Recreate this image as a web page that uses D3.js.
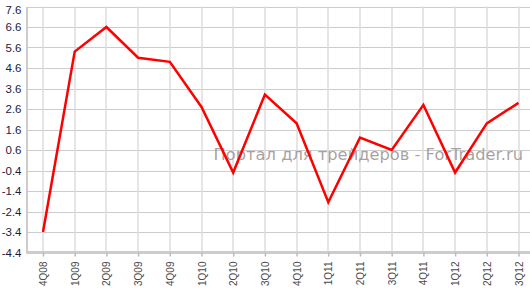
<!DOCTYPE html>
<html>
<head>
<meta charset="utf-8">
<script src="https://cdn.jsdelivr.net/npm/d3@7"></script>
<style>
  body { margin: 0; background: #fff; }
  svg { display: block; }
</style>
</head>
<body>
<svg id="chart" width="530" height="288"></svg>
<script>
var quarters = ["4Q08","1Q09","2Q09","3Q09","4Q09","1Q10","2Q10","3Q10","4Q10",
                "1Q11","2Q11","3Q11","4Q11","1Q12","2Q12","3Q12"];
var values = [-3.4, 5.4, 6.6, 5.1, 4.9, 2.7, -0.5, 3.3, 1.9,
              -1.95, 1.2, 0.6, 2.8, -0.5, 1.9, 2.9];
var yTicks = [7.6, 6.6, 5.6, 4.6, 3.6, 2.6, 1.6, 0.6, -0.4, -1.4, -2.4, -3.4, -4.4];
var watermark = "Портал для трейдеров - ForTrader.ru";

var width = 530, height = 288;
var plotLeft = 26.5, plotTop = 6.5, plotBottom = 252.5;

var svg = d3.select("#chart");

var x = d3.scalePoint()
    .domain(quarters)
    .range([43, 518.5]);

var y = d3.scaleLinear()
    .domain([-4.4, 7.6])
    .range([plotBottom, plotTop]);

// grid
var grid = svg.append("g");
grid.selectAll("line.h")
  .data(yTicks)
  .enter().append("line")
    .attr("x1", plotLeft).attr("x2", width)
    .attr("y1", function(d) { return Math.round(y(d)) + 0.5; })
    .attr("y2", function(d) { return Math.round(y(d)) + 0.5; })
    .attr("stroke", "#cccccc");

grid.selectAll("line.v")
  .data(quarters)
  .enter().append("line")
    .attr("x1", function(d) { return Math.round(x(d)); })
    .attr("x2", function(d) { return Math.round(x(d)); })
    .attr("y1", plotTop).attr("y2", plotBottom)
    .attr("stroke", "#dddddd")
    .attr("stroke-width", 1.5);

// y axis (plain hyphen for negatives, like the original)
var yAxis = d3.axisLeft(y).tickValues(yTicks).tickSize(0).tickPadding(5)
    .tickFormat(function(d) { return d.toFixed(1); });
var gy = svg.append("g")
    .attr("transform", "translate(" + plotLeft + ",0)")
    .call(yAxis);
gy.select(".domain").attr("stroke", "#cccccc").attr("stroke-width", 2);
gy.selectAll("text")
    .attr("fill", "#1c1c3c")
    .style("font-family", "Tahoma, 'Liberation Sans', Arial, sans-serif")
    .style("font-size", "11.5px")
    .attr("dy", function(d) { return d === 7.6 ? "0.6em" : "0.32em"; });

// x axis
var xAxis = d3.axisBottom(x).tickSize(4).tickPadding(4).tickSizeOuter(0);
var gx = svg.append("g")
    .attr("transform", "translate(0," + plotBottom + ")")
    .call(xAxis);
gx.select(".domain")
    .attr("d", "M" + plotLeft + ",0H" + width)
    .attr("stroke", "#cccccc").attr("stroke-width", 3);
gx.selectAll(".tick line").attr("stroke", "#bbbbbb").attr("stroke-width", 1.5);
gx.selectAll("text")
    .attr("transform", "rotate(-90)")
    .attr("text-anchor", "end")
    .attr("x", -9)
    .attr("y", 0)
    .attr("dy", "0.35em")
    .attr("fill", "#4a4a4a")
    .style("font-family", "Arial, 'Liberation Sans', sans-serif")
    .style("font-size", "10px");

// watermark
svg.append("text")
    .attr("x", 523)
    .attr("y", 160)
    .attr("text-anchor", "end")
    .attr("fill", "#9a8f8f")
    .attr("fill-opacity", 0.85)
    .style("font-family", "Verdana, 'DejaVu Sans', sans-serif")
    .style("font-size", "16.3px")
    .text(watermark);

// line
var line = d3.line()
    .x(function(d, i) { return x(quarters[i]); })
    .y(function(d) { return y(d); });

svg.append("path")
    .datum(values)
    .attr("fill", "none")
    .attr("stroke", "#ff0000")
    .attr("stroke-width", 2.5)
    .attr("stroke-linejoin", "miter")
    .attr("d", line);
</script>
</body>
</html>
